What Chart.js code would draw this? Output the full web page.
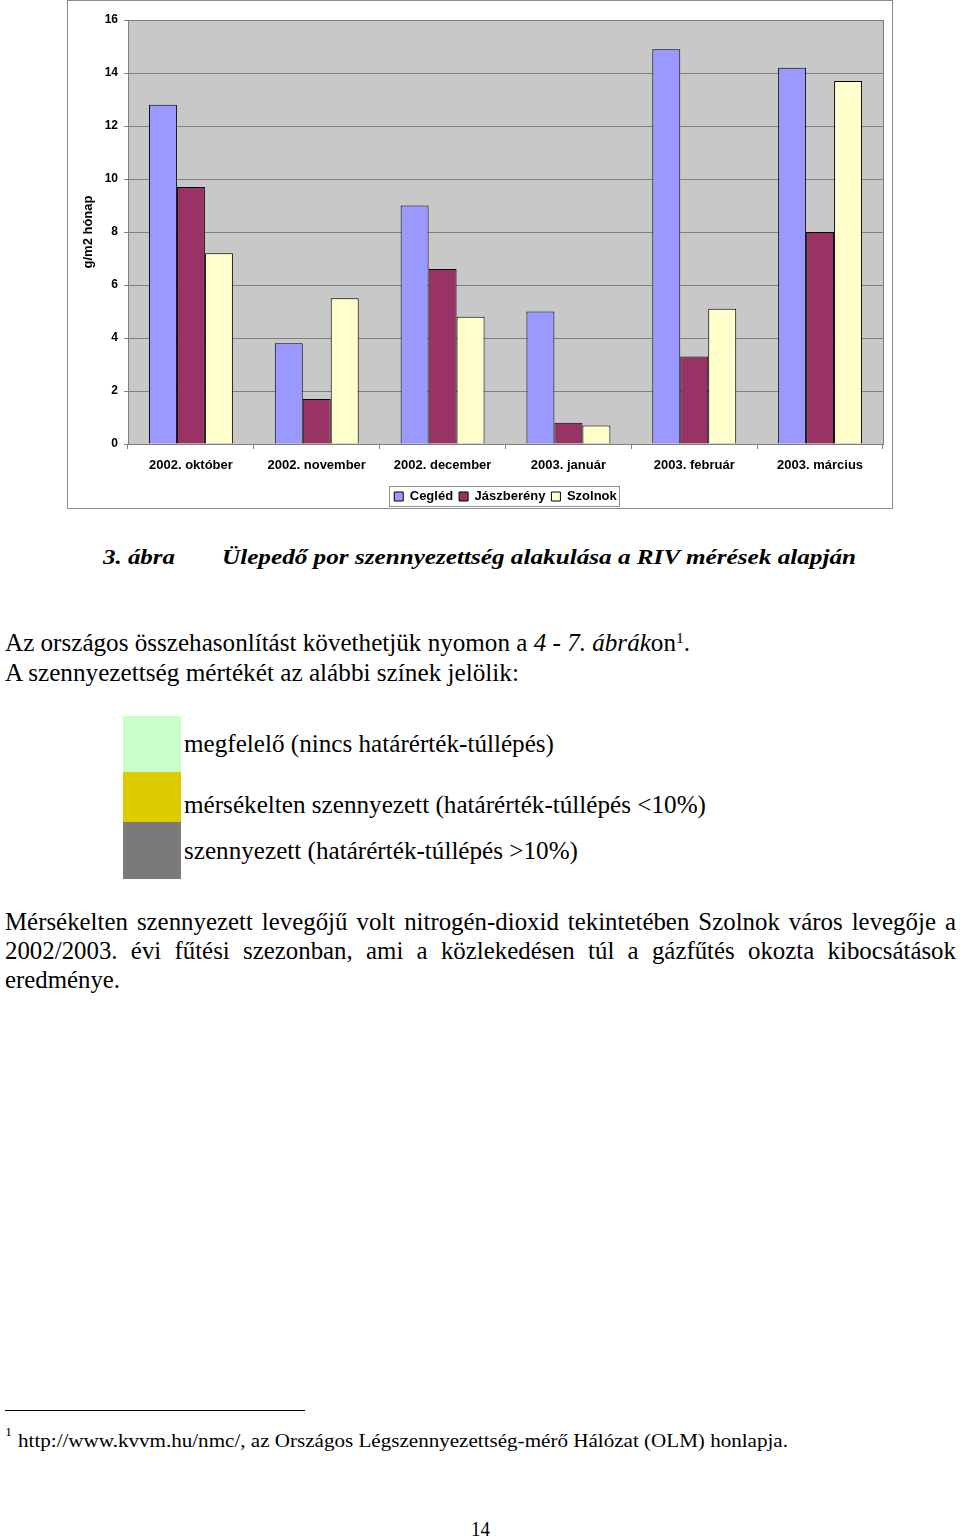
<!DOCTYPE html>
<html><head><meta charset="utf-8">
<script src="https://cdn.jsdelivr.net/npm/chart.js@4.4.1/dist/chart.umd.min.js"></script>
<style>
html,body{margin:0;padding:0;background:#fff;}
body{width:960px;height:1537px;position:relative;overflow:hidden;font-family:"Liberation Serif","Times New Roman",serif;color:#000;}
#chartBox{position:absolute;left:67px;top:0;width:826px;height:509px;box-sizing:border-box;border:1px solid #8c8c8c;}
#chartBox canvas{display:block;}
.t{position:absolute;white-space:nowrap;line-height:1;display:inline-block;transform-origin:0 0;}
.b{font-weight:bold;font-style:italic;}
.sw{position:absolute;left:123px;width:58px;}
sup{font-size:0.62em;vertical-align:0;position:relative;top:-0.55em;}
</style>
</head><body>
<div id="chartBox"><canvas id="c" width="824" height="507"></canvas></div>

<div class="t b" data-f="20" data-c="557" data-l="103" data-w="72">3. ábra</div>
<div class="t b" data-f="20" data-c="557" data-l="222" data-w="634">Ülepedő por szennyezettség alakulása a RIV mérések alapján</div>

<div class="t" data-f="22" data-c="644" data-l="5" data-w="685">Az országos összehasonlítást követhetjük nyomon a <i>4 - 7. ábrák</i>on<sup>1</sup>.</div>
<div class="t" data-f="22" data-c="674" data-l="5" data-w="514">A szennyezettség mértékét az alábbi színek jelölik:</div>

<div class="sw" style="top:716px;height:56px;background:#C8FFC8;"></div>
<div class="sw" style="top:772px;height:50px;background:#DCCC00;"></div>
<div class="sw" style="top:822px;height:57px;background:#7A7A7A;"></div>

<div class="t" data-f="22" data-c="745" data-l="184" data-w="370">megfelelő (nincs határérték-túllépés)</div>
<div class="t" data-f="22" data-c="806" data-l="184" data-w="522">mérsékelten szennyezett (határérték-túllépés &lt;10%)</div>
<div class="t" data-f="22" data-c="852" data-l="184" data-w="394">szennyezett (határérték-túllépés &gt;10%)</div>

<div class="t" data-f="22" data-c="923" data-l="5" data-j="951" data-sx="1.13">Mérsékelten szennyezett levegőjű volt nitrogén-dioxid tekintetében Szolnok város levegője a</div>
<div class="t" data-f="22" data-c="952" data-l="5" data-j="951" data-sx="1.13">2002/2003. évi fűtési szezonban, ami a közlekedésen túl a gázfűtés okozta kibocsátások</div>
<div class="t" data-f="22" data-c="981" data-l="5" data-w="115">eredménye.</div>

<div style="position:absolute;left:5px;top:1410px;width:300px;height:1px;background:#000;"></div>
<div class="t" data-f="12" data-c="1432" data-l="5" data-w="7">1</div>
<div class="t" data-f="18" data-c="1441" data-l="18" data-w="770">http://www.kvvm.hu/nmc/, az Országos Légszennyezettség-mérő Hálózat (OLM) honlapja.</div>
<div class="t" data-f="20" data-c="1529" data-l="471" data-w="19">14</div>

<script>
// ---- data ----
const categories = ['2002. október','2002. november','2002. december','2003. január','2003. február','2003. március'];
const seriesNames = ['Cegléd','Jászberény','Szolnok'];
const cegled     = [12.8, 3.8, 9.0, 5.0, 14.9, 14.2];
const jaszbereny = [9.7, 1.7, 6.6, 0.8, 3.3, 8.0];
const szolnok    = [7.2, 5.5, 4.8, 0.7, 5.1, 13.7];
const yAxisTitle = 'g/m2 hónap';
const yMin = 0, yMax = 16, yStep = 2;

// ---- text placement ----
const SY = 1.1;
document.querySelectorAll('.t').forEach(el => {
  const f = +el.dataset.f;
  el.style.fontSize = f + 'px';
  el.style.left = el.dataset.l + 'px';
  const w = el.getBoundingClientRect().width;
  if (el.dataset.j) {
    const sx = +(el.dataset.sx || 1);
    const target = +el.dataset.j / sx;
    if (w <= target) {
      el.style.width = target + 'px';
      el.style.display = 'block';
      el.style.whiteSpace = 'normal';
      el.style.textAlign = 'justify';
      el.style.textAlignLast = 'justify';
      el.style.transform = `scale(${sx}, ${SY})`;
    } else {
      el.style.transform = `scale(${(+el.dataset.j) / w}, ${SY})`;
    }
  } else {
    const sx = (+el.dataset.w) / w;
    el.style.transform = `scale(${sx}, ${SY})`;
  }
  el.style.top = (+el.dataset.c - 0.55 * f * SY) + 'px';
});

// ---- chart ----
const FONT = '"Liberation Sans", Arial, sans-serif';
const plotBg = {
  id: 'plotBg',
  beforeDraw(chart) {
    const {ctx, chartArea: a} = chart;
    ctx.save();
    ctx.fillStyle = '#C8C8C8';
    ctx.fillRect(a.left, a.top, a.right - a.left, a.bottom - a.top);
    ctx.strokeStyle = '#808080';
    ctx.lineWidth = 1;
    ctx.strokeRect(Math.round(a.left) + 0.5, Math.round(a.top) + 0.5, Math.round(a.right - a.left), Math.round(a.bottom - a.top));
    ctx.restore();
  }
};
const legendUnderPlot = {
  id: 'legendUnderPlot',
  afterLayout(chart) {
    const lg = chart.legend, a = chart.chartArea;
    if (!lg) return;
    lg.left = a.left;
    lg.right = a.right;
    lg.width = a.right - a.left;
  }
};
const legendBorder = {
  id: 'legendBorder',
  afterDraw(chart) {
    const hb = chart.legend && chart.legend.legendHitBoxes;
    if (!hb || !hb.length) return;
    let l = Infinity, r = -Infinity, t = Infinity, b = -Infinity;
    hb.forEach(h => { l = Math.min(l, h.left); r = Math.max(r, h.left + h.width); t = Math.min(t, h.top); b = Math.max(b, h.top + h.height); });
    const ctx = chart.ctx;
    ctx.save();
    ctx.strokeStyle = '#909090';
    ctx.lineWidth = 1;
    ctx.strokeRect(Math.round(l - 5) + 0.5, Math.round(t - 4) + 0.5, Math.round(r - l + 8), Math.round(b - t + 7));
    ctx.restore();
  }
};

new Chart(document.getElementById('c'), {
  type: 'bar',
  data: {
    labels: categories,
    datasets: [
      {label: seriesNames[0], data: cegled, backgroundColor: '#9999FF', borderColor: '#000', borderWidth: 1},
      {label: seriesNames[1], data: jaszbereny, backgroundColor: '#993366', borderColor: '#000', borderWidth: 1},
      {label: seriesNames[2], data: szolnok, backgroundColor: '#FFFFCC', borderColor: '#000', borderWidth: 1}
    ]
  },
  options: {
    responsive: false,
    animation: false,
    devicePixelRatio: 1,
    layout: {padding: {left: 0, right: 9, top: 19, bottom: -5}},
    datasets: {bar: {categoryPercentage: 0.667, barPercentage: 1}},
    plugins: {
      legend: {
        position: 'bottom',
        labels: {font: {family: FONT, size: 13, weight: 'bold'}, color: '#000', boxWidth: 9, boxHeight: 9, padding: 6}
      },
      tooltip: {enabled: false}
    },
    scales: {
      x: {
        grid: {display: true, drawOnChartArea: false, tickLength: 5, color: '#808080', offset: true},
        border: {color: '#808080'},
        ticks: {font: {family: FONT, size: 13, weight: 'bold'}, color: '#000', padding: 9, maxRotation: 0, autoSkip: false},
        afterFit(s) { s.height = 40; }
      },
      y: {
        min: yMin, max: yMax,
        ticks: {stepSize: yStep, font: {family: FONT, size: 12, weight: 'bold'}, color: '#000', padding: 6},
        grid: {color: '#808080', tickLength: 4},
        border: {color: '#808080'},
        title: {display: true, text: yAxisTitle, font: {family: FONT, size: 13, weight: 'bold'}, color: '#000', padding: {top: 13, bottom: 0}},
        afterFit(s) { s.width = 60; }
      }
    }
  },
  plugins: [plotBg, legendUnderPlot, legendBorder]
});
</script>
</body></html>
